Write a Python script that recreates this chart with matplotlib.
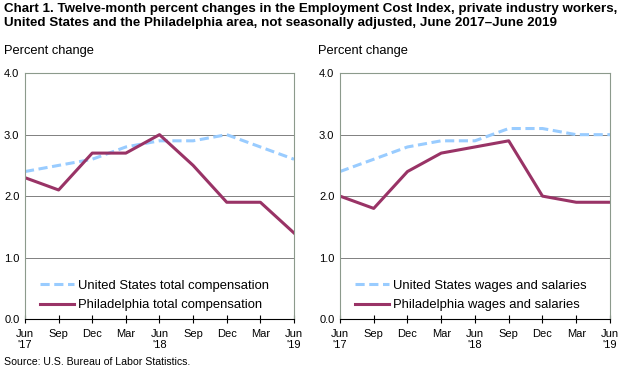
import matplotlib
matplotlib.use("Agg")
import matplotlib.pyplot as plt

plt.rcParams["font.family"] = ["Liberation Sans", "DejaVu Sans"]

QUARTERS = ["Jun\n'17", "Sep", "Dec", "Mar", "Jun\n'18", "Sep", "Dec", "Mar", "Jun\n'19"]
Y_TICKS = [0.0, 1.0, 2.0, 3.0, 4.0]

US_TOTAL = [2.4, 2.5, 2.6, 2.8, 2.9, 2.9, 3.0, 2.8, 2.6]
PHL_TOTAL = [2.3, 2.1, 2.7, 2.7, 3.0, 2.5, 1.9, 1.9, 1.4]
US_WAGES = [2.4, 2.6, 2.8, 2.9, 2.9, 3.1, 3.1, 3.0, 3.0]
PHL_WAGES = [2.0, 1.8, 2.4, 2.7, 2.8, 2.9, 2.0, 1.9, 1.9]

US_COLOR = "#99ccff"
PHL_COLOR = "#993366"
FRAME = "#8c9a8c"


def draw_panel(ax, us, phl, us_label, phl_label):
    x = range(len(QUARTERS))
    ax.plot(x, us, color=US_COLOR, linewidth=2.2, dashes=(3, 1.5), label=us_label)
    ax.plot(x, phl, color=PHL_COLOR, linewidth=2.2, label=phl_label)
    ax.set_xlim(0, len(QUARTERS) - 1)
    ax.set_ylim(0, 4)
    ax.set_yticks(Y_TICKS)
    ax.set_yticklabels([f"{v:.1f}" for v in Y_TICKS], fontsize=8)
    ax.set_xticks(list(x))
    ax.set_xticklabels(QUARTERS, fontsize=8, linespacing=1.2)
    ax.tick_params(axis="y", length=0, pad=4)
    ax.tick_params(axis="x", direction="inout", length=6, width=0.8, pad=4)
    for v in Y_TICKS[1:-1]:
        ax.axhline(v, color="#808080", linewidth=0.7, zorder=0)
    for side in ("top", "left", "right"):
        ax.spines[side].set_color(FRAME)
        ax.spines[side].set_linewidth(0.8)
    ax.spines["bottom"].set_color("black")
    ax.spines["bottom"].set_linewidth(0.8)
    leg = ax.legend(loc="lower left", bbox_to_anchor=(0.035, 0.01), frameon=False,
                    fontsize=9.4, handlelength=2.6, handletextpad=0.35,
                    labelspacing=0.55, borderaxespad=0.0)
    for line in leg.get_lines():
        line.set_linewidth(2.2)


fig = plt.figure(figsize=(6.23, 3.77), dpi=100)
ax1 = fig.add_axes([0.0401, 0.1538, 0.4318, 0.652])
ax2 = fig.add_axes([0.5457, 0.1538, 0.4334, 0.652])

draw_panel(ax1, US_TOTAL, PHL_TOTAL, "United States total compensation", "Philadelphia total compensation")
draw_panel(ax2, US_WAGES, PHL_WAGES, "United States wages and salaries", "Philadelphia wages and salaries")

fig.text(0.006, 0.993,
         "Chart 1. Twelve-month percent changes in the Employment Cost Index, private industry workers,\n"
         "United States and the Philadelphia area, not seasonally adjusted, June 2017\u2013June 2019",
         fontsize=9.6, fontweight="bold", va="top", ha="left", linespacing=1.25)
fig.text(0.006, 0.864, "Percent change", fontsize=9.3, va="center", ha="left")
fig.text(0.51, 0.864, "Percent change", fontsize=9.3, va="center", ha="left")
fig.text(0.006, 0.04, "Source: U.S. Bureau of Labor Statistics.", fontsize=7.6, va="center", ha="left")

fig.savefig("out.png", dpi=100)
